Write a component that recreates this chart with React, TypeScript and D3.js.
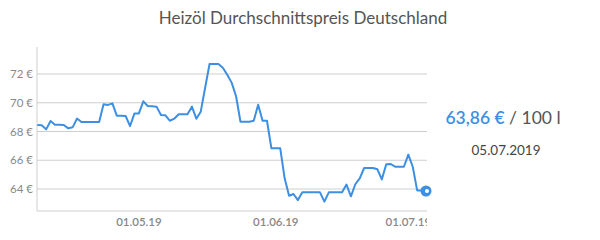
import React from "react";
import * as d3 from "d3";

const startDate = "2019-04-08";
const prices: number[] = [
  68.45, 68.43, 68.15, 68.73, 68.47, 68.47, 68.45, 68.22, 68.29, 68.9,
  68.66, 68.66, 68.66, 68.66, 68.66, 69.9, 69.85, 69.96, 69.1, 69.09,
  69.08, 68.38, 69.26, 69.26, 70.1, 69.77, 69.75, 69.73, 69.15, 69.13,
  68.75, 68.89, 69.2, 69.2, 69.2, 69.73, 68.89, 69.38, 71.04, 72.7,
  72.7, 72.7, 72.44, 71.95, 71.4, 70.45, 68.68, 68.68, 68.68, 68.75,
  69.86, 68.75, 68.75, 66.83, 66.83, 66.83, 64.74, 63.53, 63.65, 63.23,
  63.77, 63.77, 63.77, 63.77, 63.77, 63.12, 63.77, 63.77, 63.77, 63.77,
  64.31, 63.49, 64.33, 64.74, 65.46, 65.46, 65.46, 65.37, 64.67, 65.72,
  65.74, 65.55, 65.55, 65.55, 66.39, 65.55, 63.9, 63.9, 63.86,
];
const yTicks = [64, 66, 68, 70, 72];
const xTickDates = ["2019-05-01", "2019-06-01", "2019-07-01"];
const title = "Heizöl Durchschnittspreis Deutschland";
const currentPrice = "63,86 €";
const unitText = " / 100 l";
const currentDate = "05.07.2019";

const parse = d3.utcParse("%Y-%m-%d");
const fmtTick = d3.utcFormat("%d.%m.%y");

export default function App() {
  const start = parse(startDate)!;
  const data = prices.map((v, i) => ({ date: d3.utcDay.offset(start, i), value: v }));
  const left = 37;
  const right = 426;
  const x = d3
    .scaleUtc()
    .domain([data[0].date, data[data.length - 1].date])
    .range([left + 0.3, right]);
  const y = d3.scaleLinear().domain([64, 72]).range([189, 74]);
  const bottom = 211;
  const line = d3
    .line<{ date: Date; value: number }>()
    .x((d) => x(d.date))
    .y((d) => y(d.value));
  const last = data[data.length - 1];
  const font = "'Source Sans Pro', Lato, 'Open Sans', sans-serif";

  return (
    <svg
      width={600}
      height={240}
      style={{ position: "absolute", left: 0, top: 0, background: "#fff" }}
      fontFamily={font}
    >
      <text x={303} y={24} textAnchor="middle" fontSize={17} fill="#555">
        {title}
      </text>
      <defs>
        <clipPath id="plotclip">
          <rect x={0} y={0} width={427} height={240} />
        </clipPath>
      </defs>
      {yTicks.map((t) => (
        <g key={t}>
          <line x1={left} x2={427} y1={y(t)} y2={y(t)} stroke="#cfcfcf" strokeWidth={1} />
          <text x={33} y={y(t) + 4} textAnchor="end" fontSize={11.5} fill="#888">
            {t} €
          </text>
        </g>
      ))}
      <line x1={left} x2={left} y1={47} y2={bottom} stroke="#cfcfcf" strokeWidth={1} />
      <line x1={left} x2={427} y1={bottom} y2={bottom} stroke="#cfcfcf" strokeWidth={1} />
      <g clipPath="url(#plotclip)">
        {xTickDates.map((s) => {
          const dt = parse(s)!;
          return (
            <text
              key={s}
              x={x(dt)}
              y={226}
              textAnchor="middle"
              fontSize={11.5}
              fontWeight={600}
              fill="#888"
            >
              {fmtTick(dt)}
            </text>
          );
        })}
      </g>
      <path d={line(data) || ""} fill="none" stroke="#3d8fe3" strokeWidth={2} strokeLinejoin="round" />
      <circle cx={x(last.date)} cy={y(last.value)} r={5.5} fill="#3d8fe3" />
      <circle cx={x(last.date) + 1} cy={y(last.value)} r={2} fill="#fff" />
      <text x={503} y={124} textAnchor="middle" fontSize={17.5}>
        <tspan fill="#3d8fe3" fontWeight={600}>{currentPrice}</tspan>
        <tspan fill="#555">{unitText}</tspan>
      </text>
      <text x={506} y={155} textAnchor="middle" fontSize={13.5} fill="#444">
        {currentDate}
      </text>
    </svg>
  );
}
